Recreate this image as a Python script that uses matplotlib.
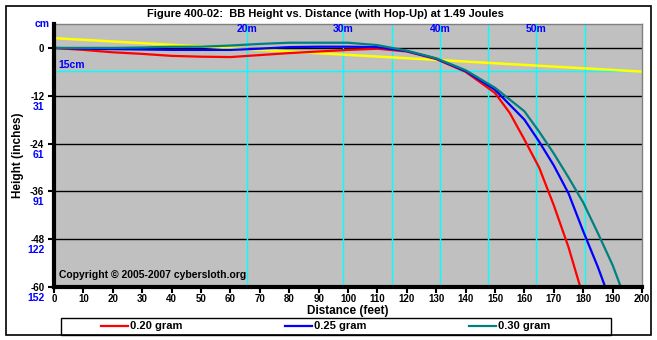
import matplotlib
matplotlib.use("Agg")
import matplotlib.pyplot as plt
from matplotlib.patches import Rectangle
from matplotlib.lines import Line2D
import matplotlib.transforms as mtransforms

# ---------------- data ----------------
x_red = [0, 10, 20, 30, 40, 50, 60, 70, 80, 90, 100, 110, 120, 130, 140, 150, 155, 160, 165, 170, 175, 179]
y_red = [0, -0.5, -1.1, -1.5, -2.0, -2.2, -2.3, -1.8, -1.3, -0.9, -0.5, -0.2, -0.9, -2.8, -6.0, -11.3, -16.3, -23, -30, -39.5, -50, -60]

x_blue = [0, 10, 20, 30, 40, 50, 60, 70, 80, 90, 100, 110, 120, 130, 140, 150, 160, 165, 170, 175, 180, 185, 187.5]
y_blue = [0, -0.2, -0.3, -0.4, -0.5, -0.5, -0.5, -0.2, 0.2, 0.3, 0.3, 0.2, -0.8, -2.7, -5.8, -10.5, -18.0, -23.5, -29.5, -36.5, -46, -55, -60]

x_teal = [0, 10, 20, 30, 40, 50, 60, 70, 80, 90, 100, 110, 120, 130, 140, 150, 160, 165, 170, 175, 180, 185, 190, 192.8]
y_teal = [0, 0, 0, 0.1, 0.3, 0.3, 0.6, 1.0, 1.3, 1.3, 1.3, 0.7, -0.7, -2.6, -5.6, -10.0, -15.9, -21, -26.5, -32.5, -38.8, -46.5, -54.5, -60]

x_sight = [0, 200]
y_sight = [2.45, -5.95]

series_labels = ["0.20 gram", "0.25 gram", "0.30 gram"]
series_colors = ["#FF0000", "#0000FF", "#008080"]

x_ticks = list(range(0, 201, 10))
y_ticks = [0, -12, -24, -36, -48, -60]
y_cm_labels = ["", "31", "61", "91", "122", "152"]

meter_lines = [20, 30, 35, 40, 45, 50, 55]
meter_labels = {20: "20m", 30: "30m", 40: "40m", 50: "50m"}
cm15_inches = -15 / 2.54

title = "Figure 400-02:  BB Height vs. Distance (with Hop-Up) at 1.49 Joules"

# ---------------- figure ----------------
W, H = 657, 340
plt.rcParams['font.family'] = ['Liberation Sans', 'DejaVu Sans']
plt.rcParams['font.weight'] = 'bold'
fig = plt.figure(figsize=(W / 100, H / 100), dpi=100)
fig.patch.set_facecolor("white")

def fx(px):
    return px / W

def fy(py):
    return 1 - py / H

# outer border
fig.patches.append(Rectangle((fx(5.5), fy(334.5)), fx(651) - fx(5.5), fy(5.5) - fy(334.5),
                             transform=fig.transFigure, fill=False, edgecolor="black", lw=1.2))

ax = fig.add_axes([fx(54), fy(287), fx(642) - fx(54), fy(24) - fy(287)])
ax.set_facecolor("#C0C0C0")
ax.set_xlim(0, 200)
ax.set_ylim(-60, 6)

# grid lines
for yv in y_ticks[:-1]:
    ax.axhline(yv, color="black", lw=1.0, zorder=1)
for m in meter_lines:
    ax.axvline(m * 100 / 30.48, color="#00FFFF", lw=1.0, zorder=1)
ax.axhline(cm15_inches, color="#00FFFF", lw=1.0, zorder=1)

# curves
ax.plot(x_sight, y_sight, color="#FFFF00", lw=1.8, zorder=2)
for xs, ys, c in zip([x_red, x_blue, x_teal], [y_red, y_blue, y_teal], series_colors):
    ax.plot(xs, ys, color=c, lw=1.6, zorder=3, solid_joinstyle="round")

# spines
for s in ["top", "right"]:
    ax.spines[s].set_color("#808080")
    ax.spines[s].set_linewidth(1.0)
for s in ["left", "bottom"]:
    ax.spines[s].set_color("black")
    ax.spines[s].set_linewidth(3.0)
    ax.spines[s].set_zorder(5)

ax.set_xticks(x_ticks)
ax.set_xticklabels([str(v) for v in x_ticks])
ax.set_yticks(y_ticks)
ax.set_yticklabels([str(v) for v in y_ticks])
ax.tick_params(axis="both", length=4, width=1.5, color="black", labelsize=7)
ax.tick_params(axis="x", pad=1)
ax.tick_params(axis="y", pad=3)
for lab in ax.get_xticklabels() + ax.get_yticklabels():
    lab.set_fontweight("bold")

# cm labels under y ticks
trans_y = mtransforms.blended_transform_factory(ax.transAxes, ax.transData)
offset = mtransforms.ScaledTranslation(0, -11 / 100, fig.dpi_scale_trans)
for yv, lab in zip(y_ticks, y_cm_labels):
    if lab:
        ax.text(-0.016, yv, lab, transform=trans_y + offset, ha="right", va="center",
                color="#0000FF", fontsize=7.5, fontweight="bold", clip_on=False)
ax.text(-0.008, 1.0, "cm", transform=ax.transAxes, ha="right", va="center",
        color="#0000FF", fontsize=7.5, fontweight="bold", clip_on=False)

# meter labels
trans_x = mtransforms.blended_transform_factory(ax.transData, ax.transAxes)
for m, lab in meter_labels.items():
    ax.text(m * 100 / 30.48, 0.98, lab, transform=trans_x, ha="center", va="center",
            color="#0000FF", fontsize=7.5, fontweight="bold")
ax.text(0.007, cm15_inches + 0.4, "15cm", transform=trans_y, ha="left", va="bottom",
        color="#0000FF", fontsize=7.5, fontweight="bold")

ax.text(0.008, 0.045, "Copyright \u00a9 2005-2007 cybersloth.org", transform=ax.transAxes,
        ha="left", va="center", fontsize=7.5, fontweight="bold")

ax.set_xlabel("Distance (feet)", fontsize=8.5, fontweight="bold", labelpad=1)
fig.text(fx(18), fy(155), "Height (inches)", rotation=90, ha="center", va="center",
         fontsize=8.5, fontweight="bold")
fig.text(fx(325), fy(14), title, ha="center", va="center", fontsize=8, fontweight="bold")

# legend box
fig.patches.append(Rectangle((fx(60.5), fy(334.5)), fx(611) - fx(60.5), fy(317.5) - fy(334.5),
                             transform=fig.transFigure, fill=False, edgecolor="black", lw=1.0))
leg_starts = [101, 285, 469]
for x0, lab, c in zip(leg_starts, series_labels, series_colors):
    fig.lines.append(Line2D([fx(x0), fx(x0 + 27)], [fy(326), fy(326)], transform=fig.transFigure,
                            color=c, lw=1.6))
    fig.text(fx(x0 + 29), fy(326), lab, ha="left", va="center", fontsize=8, fontweight="bold")

fig.savefig("out.png", dpi=100, facecolor="white")
